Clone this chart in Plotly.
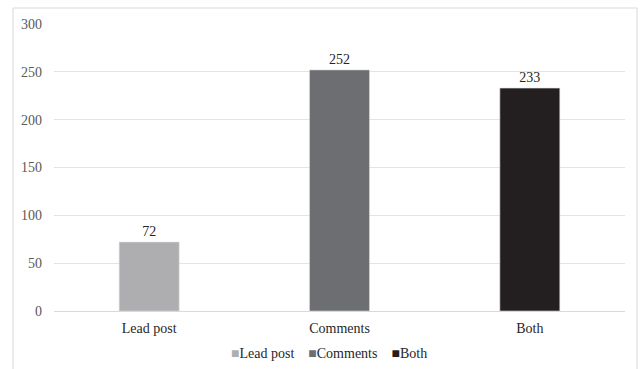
import plotly.graph_objects as go

categories = ["Lead post", "Comments", "Both"]
series_names = ["Lead post", "Comments", "Both"]
values = [72, 252, 233]
colors = ["#AEAEB1", "#6D6E72", "#231F20"]
y_ticks = [0, 50, 100, 150, 200, 250, 300]

FONT = "Liberation Serif"

fig = go.Figure()
for name, cat, val, col in zip(series_names, categories, values, colors):
    fig.add_trace(go.Bar(
        name=name,
        x=[cat],
        y=[val],
        width=0.315,
        marker=dict(color=col, line=dict(color="#D9D9D9", width=0.6)),
        text=[str(val)],
        textposition="outside",
        textfont=dict(family=FONT, size=14, color="#262626"),
        cliponaxis=False,
        showlegend=False,
    ))

# legend row built from the series names and colours
legend_text = "&nbsp;&nbsp;&nbsp;&nbsp;".join(
    f'<span style="color:{c}">■</span>{n}' for n, c in zip(series_names, colors)
)

fig.update_layout(
    width=641,
    height=369,
    barmode="overlay",
    paper_bgcolor="white",
    plot_bgcolor="white",
    margin=dict(l=54, r=16, t=24, b=58, autoexpand=False),
    font=dict(family=FONT, size=14, color="#262626"),
    xaxis=dict(
        showgrid=False,
        showline=True,
        linecolor="#D9D9D9",
        linewidth=1,
        ticks="",
        ticklabelstandoff=4,
        tickfont=dict(family=FONT, size=14, color="#262626"),
    ),
    yaxis=dict(
        range=[0, 300],
        tickvals=y_ticks,
        showgrid=True,
        gridcolor="#E3E3E3",
        gridwidth=1,
        zeroline=False,
        showline=False,
        ticks="",
        ticklabelstandoff=11,
        tickfont=dict(family=FONT, size=14, color="#595959"),
    ),
    annotations=[dict(
        xref="paper", yref="paper",
        x=(329 - 54) / 571, xanchor="center",
        y=-(353 - 311) / 287, yanchor="middle",
        text=legend_text,
        showarrow=False,
        font=dict(family=FONT, size=14, color="#262626"),
    )],
    shapes=[dict(
        type="rect", xref="paper", yref="paper",
        x0=-41 / 571, x1=1 + 12 / 571,
        y0=-0.3, y1=1 + 16 / 287,
        line=dict(color="#D9D9D9", width=1),
        fillcolor="rgba(0,0,0,0)",
        layer="below",
    )],
)

fig.write_html("out.html")
